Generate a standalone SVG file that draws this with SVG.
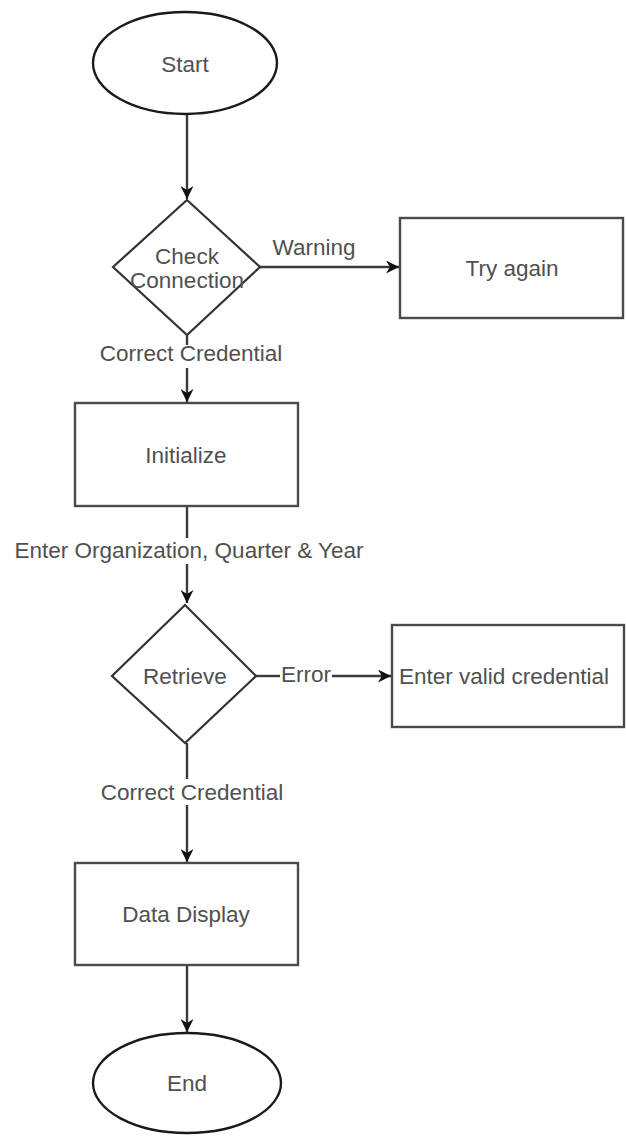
<svg xmlns="http://www.w3.org/2000/svg" width="626" height="1136" viewBox="0 0 626 1136">
  <style>
    .term { fill: #ffffff; stroke: #1a1a1a; stroke-width: 2.4; }
    .box { fill: #ffffff; stroke: #4a4a4a; stroke-width: 2.4; }
    .dec { fill: #ffffff; stroke: #333333; stroke-width: 2.2; }
    .lbl { font-family: "Liberation Sans", Arial, sans-serif; font-size: 22.5px; fill: #505050; text-anchor: middle; dominant-baseline: central; }
    .edge { stroke: #3a3a3a; stroke-width: 2.4; fill: none; }
  </style>
  <defs>
    <marker id="arrow" viewBox="0 0 10 10" refX="10" refY="5" markerWidth="13" markerHeight="13" markerUnits="userSpaceOnUse" orient="auto">
      <path d="M0,0 L10,5 L0,10 L3,5 Z" fill="#111111"/>
    </marker>
  </defs>

  <rect width="626" height="1136" fill="#ffffff"/>

  <!-- connectors -->
  <g id="connectors">
    <path class="edge" d="M187,114 V199" marker-end="url(#arrow)"/>
    <path class="edge" d="M260,267 H399" marker-end="url(#arrow)"/>
    <path class="edge" d="M187,335 V345"/>
    <path class="edge" d="M187,368 V402" marker-end="url(#arrow)"/>
    <path class="edge" d="M187,506 V538"/>
    <path class="edge" d="M187,564 V603" marker-end="url(#arrow)"/>
    <path class="edge" d="M256,676 H280"/>
    <path class="edge" d="M332,676 H391" marker-end="url(#arrow)"/>
    <path class="edge" d="M187,743 V779"/>
    <path class="edge" d="M187,805 V862" marker-end="url(#arrow)"/>
    <path class="edge" d="M187,965 V1032" marker-end="url(#arrow)"/>
    <text class="lbl" x="314" y="247">Warning</text>
    <text class="lbl" x="191" y="353">Correct Credential</text>
    <text class="lbl" x="189" y="550">Enter Organization, Quarter &amp; Year</text>
    <text class="lbl" x="306" y="674">Error</text>
    <text class="lbl" x="192" y="792">Correct Credential</text>
  </g>

  <!-- nodes -->
  <g id="start">
    <ellipse class="term" cx="185" cy="63" rx="92" ry="51"/>
    <text class="lbl" x="185" y="64">Start</text>
  </g>
  <g id="check">
    <polygon class="dec" points="187,200 260,267 187,335 113,267"/>
    <text class="lbl" x="187" y="256">Check</text>
    <text class="lbl" x="187" y="280">Connection</text>
  </g>
  <g id="try-again">
    <rect class="box" x="400" y="218" width="223" height="100"/>
    <text class="lbl" x="512" y="268">Try again</text>
  </g>
  <g id="initialize">
    <rect class="box" x="75" y="403" width="223" height="103"/>
    <text class="lbl" x="186" y="455">Initialize</text>
  </g>
  <g id="retrieve">
    <polygon class="dec" points="185,605 256,676 185,743 112,676"/>
    <text class="lbl" x="185" y="676">Retrieve</text>
  </g>
  <g id="valid-credential">
    <rect class="box" x="392" y="625" width="232" height="102"/>
    <text class="lbl" x="504" y="676">Enter valid credential</text>
  </g>
  <g id="data-display">
    <rect class="box" x="75" y="863" width="223" height="102"/>
    <text class="lbl" x="186" y="914">Data Display</text>
  </g>
  <g id="end">
    <ellipse class="term" cx="187" cy="1083" rx="94" ry="50"/>
    <text class="lbl" x="187" y="1083">End</text>
  </g>
</svg>
